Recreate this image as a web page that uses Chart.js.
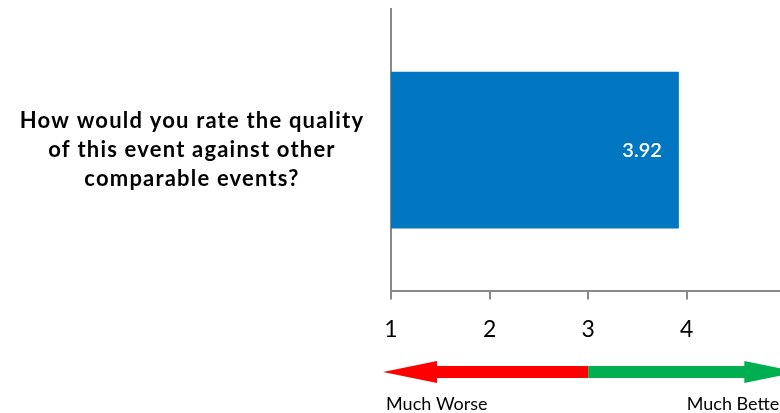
<!DOCTYPE html>
<html>
<head>
<meta charset="utf-8">
<script src="https://cdn.jsdelivr.net/npm/chart.js@4/dist/chart.umd.min.js"></script>
<style>
  html, body { margin: 0; padding: 0; background: #fff; overflow: hidden; }
  #wrap { width: 808px; height: 413px; }
</style>
</head>
<body>
<div id="wrap"><canvas id="chart" width="808" height="413"></canvas></div>
<script>
    // chart data
    const categories = ['Quality vs comparable events'];
    const questionLines = ['How would you rate the quality', 'of this event against other', 'comparable events?'];
    const scores = [3.92];
    const scaleTicks = [1, 2, 3, 4, 5];
    const arrowLabels = ['Much Worse', 'Much Better'];
    const arrowLabelAt = [0.95, 4.0];   // x values where the captions start
    const arrowSplit = 3;                // red -> green change

    const FONT = 'Lato, "Open Sans", sans-serif';

    /**
     * Question text left of the axis (drawn by hand, multi-line, centred)
     */
    const questionText = {
        id: 'questionText',
        afterDraw(chart) {
            const ctx = chart.ctx;
            const meta = chart.getDatasetMeta(0);
            const yc = meta.data[0].y;
            ctx.save();
            ctx.fillStyle = '#000000';
            ctx.font = 'bold 22px ' + FONT;
            ctx.letterSpacing = '1.2px';
            ctx.textAlign = 'center';
            ctx.textBaseline = 'alphabetic';
            questionLines.forEach((line, i) => {
                ctx.fillText(line, 192, yc - 22 + i * 29);
            });
            ctx.restore();
        }
    };

    /**
     * White value label inside the end of the bar
     */
    const valueLabels = {
        id: 'valueLabels',
        afterDatasetsDraw(chart) {
            const ctx = chart.ctx;
            const meta = chart.getDatasetMeta(0);
            ctx.save();
            ctx.fillStyle = '#ffffff';
            ctx.font = '600 20px ' + FONT;
            ctx.textAlign = 'right';
            ctx.textBaseline = 'middle';
            meta.data.forEach((bar, i) => {
                ctx.fillText(scores[i].toFixed(2), bar.x - 17, bar.y);
            });
            ctx.restore();
        }
    };

    /**
     * Red/green double arrow under the axis with captions
     */
    const scaleArrow = {
        id: 'scaleArrow',
        afterDraw(chart) {
            const ctx = chart.ctx;
            const xs = chart.scales.x;
            const yMid = 372;
            const shaft = 6;
            const headH = 11;
            const headW = 54;
            const left = xs.getPixelForValue(scaleTicks[0]) - 8;
            const right = xs.getPixelForValue(scaleTicks[scaleTicks.length - 1]) + 13;
            const mid = xs.getPixelForValue(arrowSplit);

            ctx.save();
            // red half
            ctx.fillStyle = '#ff0000';
            ctx.beginPath();
            ctx.moveTo(left, yMid);
            ctx.lineTo(left + headW, yMid - headH);
            ctx.lineTo(left + headW, yMid - shaft);
            ctx.lineTo(mid, yMid - shaft);
            ctx.lineTo(mid, yMid + shaft);
            ctx.lineTo(left + headW, yMid + shaft);
            ctx.lineTo(left + headW, yMid + headH);
            ctx.closePath();
            ctx.fill();
            // green half
            ctx.fillStyle = '#00b050';
            ctx.beginPath();
            ctx.moveTo(right, yMid);
            ctx.lineTo(right - headW, yMid - headH);
            ctx.lineTo(right - headW, yMid - shaft);
            ctx.lineTo(mid, yMid - shaft);
            ctx.lineTo(mid, yMid + shaft);
            ctx.lineTo(right - headW, yMid + shaft);
            ctx.lineTo(right - headW, yMid + headH);
            ctx.closePath();
            ctx.fill();

            ctx.fillStyle = '#000000';
            ctx.font = '18px ' + FONT;
            ctx.textAlign = 'left';
            ctx.textBaseline = 'alphabetic';
            arrowLabels.forEach((txt, i) => {
                ctx.fillText(txt, xs.getPixelForValue(arrowLabelAt[i]), 410);
            });
            ctx.restore();
        }
    };

    new Chart(document.getElementById('chart').getContext('2d'), {
        type: 'bar',
        data: {
            labels: categories,
            datasets: [{
                data: scores,
                backgroundColor: '#0077c0',
                borderWidth: 0,
                barPercentage: 0.555,
                categoryPercentage: 1.0
            }]
        },
        options: {
            indexAxis: 'y',
            responsive: false,
            animation: false,
            events: [],
            layout: {
                padding: { top: 9, right: 0, bottom: 54, left: 0 }
            },
            plugins: {
                legend: { display: false },
                tooltip: { enabled: false }
            },
            scales: {
                x: {
                    min: scaleTicks[0],
                    max: scaleTicks[scaleTicks.length - 1],
                    afterBuildTicks: (axis) => {
                        axis.ticks = scaleTicks.map(v => ({ value: v }));
                    },
                    border: { display: true, color: '#888888', width: 2 },
                    grid: {
                        drawOnChartArea: false,
                        drawTicks: true,
                        tickLength: 8,
                        color: '#888888',
                        lineWidth: 2
                    },
                    ticks: {
                        color: '#000000',
                        padding: 16,
                        maxRotation: 0,
                        font: { family: FONT, size: 23 }
                    }
                },
                y: {
                    afterFit: (axis) => { axis.width = 391; },
                    border: { display: true, color: '#888888', width: 2 },
                    grid: { display: false, drawTicks: false },
                    ticks: { display: false }
                }
            }
        },
        plugins: [valueLabels, scaleArrow, questionText]
    });
</script>
</body>
</html>
